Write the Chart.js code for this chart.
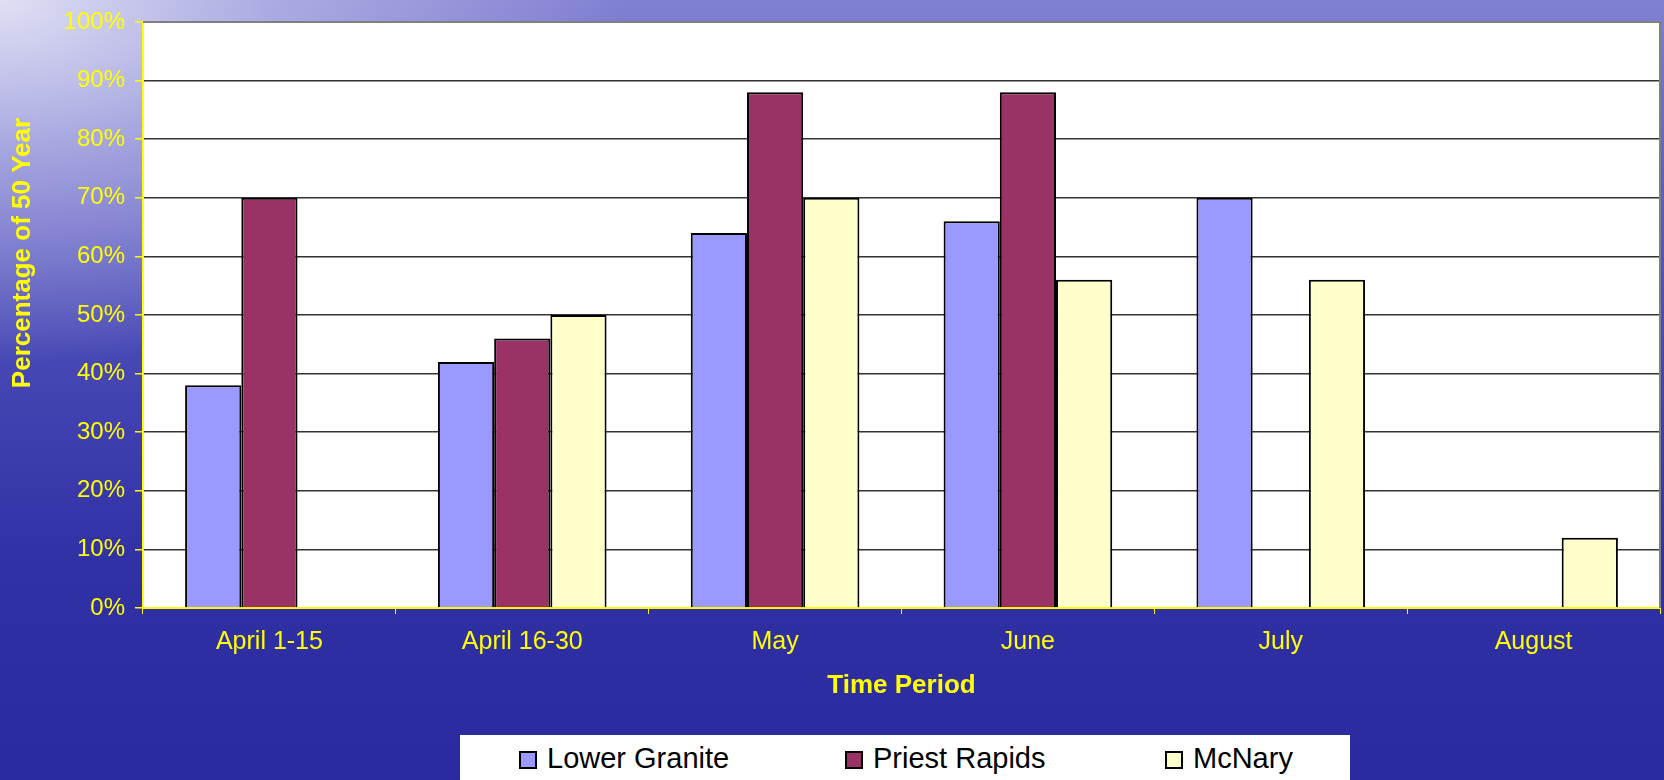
<!DOCTYPE html>
<html>
<head>
<meta charset="utf-8">
<script src="https://cdn.jsdelivr.net/npm/chart.js@4.4.1/dist/chart.umd.min.js"></script>
<style>
  html, body {
    margin: 0;
    padding: 0;
    width: 1664px;
    height: 780px;
    overflow: hidden;
  }
  body {
    position: relative;
    background:
      radial-gradient(ellipse 900px 520px at 0% 0%, rgba(228,228,246,0.95) 0%, rgba(190,190,234,0.7) 30%, rgba(140,140,214,0) 70%),
      linear-gradient(to bottom, #8080d2 0%, #5d5dc2 25%, #4343b2 50%, #3131a6 72%, #2a2a9e 100%);
  }
  #chart {
    position: absolute;
    left: 0;
    top: 0;
  }
  .legend {
    position: absolute;
    left: 460px;
    top: 735px;
    width: 890px;
    height: 50px;
    background: #ffffff;
    font-family: "Liberation Sans", Arial, sans-serif;
    font-size: 29px;
    color: #000;
  }
  .legend .item {
    position: absolute;
    top: 0;
    height: 46px;
    line-height: 46px;
    white-space: nowrap;
  }
  .legend .box {
    display: inline-block;
    width: 14px;
    height: 14px;
    border: 2px solid #000;
    margin-right: 10px;
    vertical-align: -1px;
  }
</style>
</head>
<body>
<canvas id="chart" width="1664" height="780"></canvas>
<div class="legend" id="legend"></div>

<script>
// data (percent of 50 year average)
const periods = ["April 1-15", "April 16-30", "May", "June", "July", "August"];
const lowerGranite = [38, 42, 64, 66, 70, null];
const priestRapids = [70, 46, 88, 88, null, null];
const mcNary = [null, 50, 70, 56, 56, 12];
const seriesNames = ["Lower Granite", "Priest Rapids", "McNary"];
const seriesColors = ["#9999ff", "#993366", "#ffffcc"];
const yTicks = [0, 10, 20, 30, 40, 50, 60, 70, 80, 90, 100];

const yellow = "#ffff00";
const fontName = "'Liberation Sans', Arial, sans-serif";

// white plot background + grey top/right frame + rotated y title
const plotFrame = {
  id: "plotFrame",
  beforeDraw(chart) {
    const a = chart.chartArea;
    const ctx = chart.ctx;
    ctx.save();
    ctx.fillStyle = "#ffffff";
    ctx.fillRect(a.left, a.top, a.right - a.left, a.bottom - a.top);
    ctx.restore();
  },
  afterDraw(chart) {
    const a = chart.chartArea;
    const ctx = chart.ctx;
    ctx.save();
    ctx.strokeStyle = "#808080";
    ctx.lineWidth = 2;
    ctx.beginPath();
    ctx.moveTo(a.left, a.top);
    ctx.lineTo(a.right, a.top);
    ctx.lineTo(a.right, a.bottom);
    ctx.stroke();

    // y axis title sits a bit above the middle in the original
    ctx.translate(23, 253);
    ctx.rotate(-Math.PI / 2);
    ctx.fillStyle = yellow;
    ctx.font = "bold 26px " + fontName;
    ctx.textAlign = "center";
    ctx.textBaseline = "middle";
    ctx.fillText("Percentage of 50 Year", 0, 0);
    ctx.restore();
  },
};

const datasets = [lowerGranite, priestRapids, mcNary].map((vals, i) => ({
  label: seriesNames[i],
  data: vals,
  backgroundColor: seriesColors[i],
  borderColor: "#000000",
  borderWidth: 2,
  borderSkipped: "bottom",
  categoryPercentage: 0.667,
  barPercentage: 1.0,
}));

const chart = new Chart(document.getElementById("chart").getContext("2d"), {
  type: "bar",
  data: { labels: periods, datasets: datasets },
  plugins: [plotFrame],
  options: {
    responsive: false,
    animation: false,
    layout: { padding: { top: 20, right: 4, left: 0, bottom: 0 } },
    plugins: {
      legend: { display: false },
      tooltip: { enabled: false },
    },
    scales: {
      x: {
        grid: {
          offset: true,
          drawOnChartArea: false,
          drawTicks: true,
          tickLength: 6,
          tickColor: yellow,
        },
        border: { color: yellow, width: 2 },
        ticks: {
          color: yellow,
          padding: 13,
          font: { family: fontName, size: 25 },
          maxRotation: 0,
        },
        title: {
          display: true,
          text: "Time Period",
          color: yellow,
          font: { family: fontName, size: 26, weight: "bold" },
          padding: { top: 0, bottom: 79 },
        },
        afterFit(scale) {
          scale.height = 172;
        },
      },
      y: {
        min: 0,
        max: 100,
        afterBuildTicks(scale) {
          scale.ticks = yTicks.map((v) => ({ value: v }));
        },
        grid: {
          color: (c) => (c.tick && c.tick.value === 100 ? "#808080" : "#333333"),
          lineWidth: 1.5,
          tickLength: 8,
          tickColor: yellow,
        },
        border: { color: yellow, width: 2 },
        ticks: {
          color: yellow,
          padding: 10,
          font: { family: fontName, size: 24, lineHeight: 1.0 },
          callback: (v) => v + "%",
        },
        afterFit(scale) {
          scale.width = 143;
        },
      },
    },
  },
});

// legend strip at the bottom (white box like the original)
const legendEl = document.getElementById("legend");
const legendLeft = [59, 385, 705];
seriesNames.forEach((name, i) => {
  const item = document.createElement("div");
  item.className = "item";
  item.style.left = legendLeft[i] + "px";
  item.innerHTML =
    '<span class="box" style="background:' + seriesColors[i] + '"></span>' + name;
  legendEl.appendChild(item);
});
</script>
</body>
</html>
